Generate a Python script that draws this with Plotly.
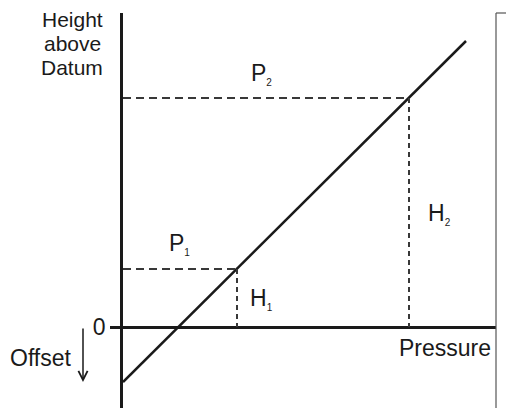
import plotly.graph_objects as go

# points on the pressure line (pressure, height above datum)
pressure = [0, 11.4, 28.6, 34.3]
height = [-5.5, 5.8, 22.9, 28.6]

# the two read-off points
p_labels = ['P<sub><span style="font-size:10px">1</span></sub>',
            'P<sub><span style="font-size:10px">2</span></sub>']
h_labels = ['H<sub><span style="font-size:10px">1</span></sub>',
            'H<sub><span style="font-size:10px">2</span></sub>']
read_idx = [1, 2]

FONT = "Liberation Sans, Arial, sans-serif"
INK = "#1a1a1a"
DASH = "#383838"
FS = 23

X_RANGE = [0, 37.3]
Y_RANGE = [-8.1, 31.4]

fig = go.Figure()

fig.add_trace(go.Scatter(x=pressure, y=height, mode='lines',
                         line=dict(color=INK, width=2.5), showlegend=False,
                         hoverinfo='skip'))

for i in read_idx:
    px_, h_ = pressure[i], height[i]
    fig.add_trace(go.Scatter(x=[0, px_], y=[h_, h_], mode='lines',
                             line=dict(color=DASH, width=2, dash='8px,5px'),
                             showlegend=False, hoverinfo='skip'))
    fig.add_trace(go.Scatter(x=[px_, px_], y=[h_, 0], mode='lines',
                             line=dict(color=DASH, width=2, dash='5px,4px'),
                             showlegend=False, hoverinfo='skip'))

annotations = [
    dict(x=5.6, y=8.3, text=p_labels[0]),
    dict(x=13.8, y=25.3, text=p_labels[1]),
    dict(x=13.8, y=2.8, text=h_labels[0]),
    dict(x=31.6, y=11.3, text=h_labels[1]),
    dict(x=32.2, y=-2.1, text='Pressure'),
]
for a in annotations:
    a.update(xref='x', yref='y', showarrow=False, xanchor='center', yanchor='middle',
             font=dict(family=FONT, size=FS, color=INK))

# labels left of the height axis (paper coordinates, 10 px per data unit)
W = 373.0
for txt, yc in [('Height', 19.5), ('above', 43.5), ('Datum', 67.5)]:
    annotations.append(dict(x=(72 - 123) / W, y=(327 - yc) / 10.0, xref='paper', yref='y',
                            xanchor='center', yanchor='middle', borderpad=0,
                            text=txt, showarrow=False,
                            font=dict(family=FONT, size=21, color=INK)))
annotations.append(dict(x=(41 - 123) / W, y=(327 - 358) / 10.0, xref='paper', yref='y',
                        xanchor='center', yanchor='middle',
                        text='Offset', showarrow=False,
                        font=dict(family=FONT, size=FS, color=INK)))
annotations.append(dict(x=(83 - 123) / W, y=height[0], xref='paper', yref='y',
                        ax=0, ay=-55, text='', showarrow=True, arrowhead=5,
                        arrowsize=1.2, arrowwidth=1.5, arrowcolor=INK))

# page body has an 8px margin, so the figure is a bit smaller and shifted
fig.update_layout(
    width=506, height=400,
    margin=dict(l=115, r=18, t=5, b=0),
    paper_bgcolor='white', plot_bgcolor='white',
    annotations=annotations,
    shapes=[
        dict(type='line', xref='paper', yref='paper', x0=1, x1=1, y0=0, y1=1,
             line=dict(color='#555555', width=1.2)),
        dict(type='line', xref='paper', yref='paper', x0=1, x1=1 + 18 / W, y0=1, y1=1,
             line=dict(color='#555555', width=1.2)),
    ],
)
fig.update_xaxes(range=X_RANGE, showgrid=False, zeroline=False, showticklabels=False,
                 showline=False, ticks='')
fig.update_yaxes(range=Y_RANGE, showgrid=False, zeroline=True, zerolinecolor=INK,
                 zerolinewidth=2.5, showline=True, linecolor=INK, linewidth=2.5,
                 ticks='outside', ticklen=10, tickwidth=2.5, tickcolor=INK,
                 tickvals=[0], ticktext=['0'],
                 tickfont=dict(family=FONT, size=FS, color=INK))

fig.write_html("out.html")
